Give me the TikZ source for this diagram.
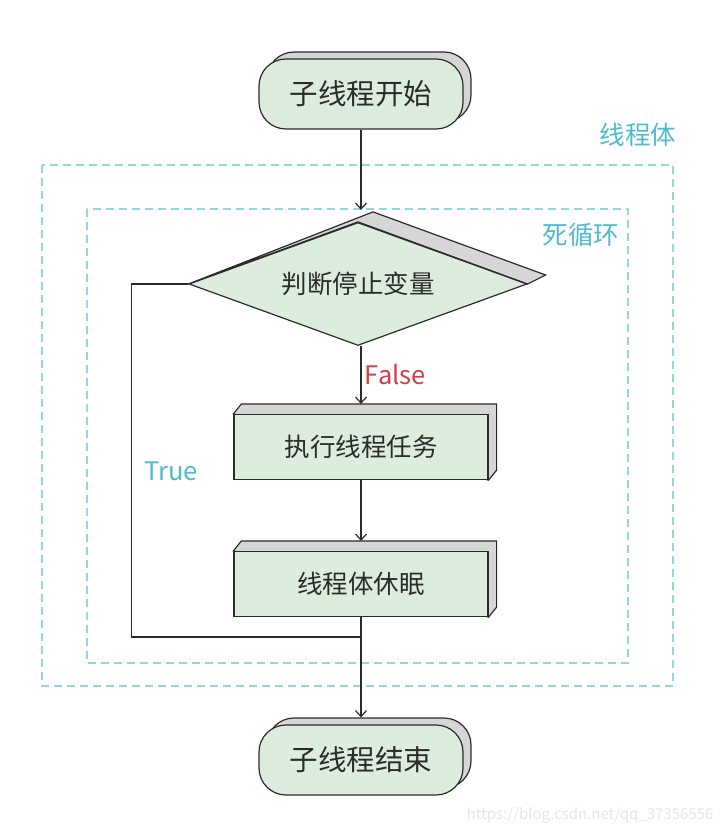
\documentclass[tikz,border=0pt]{standalone}
\usepackage{fontspec}
\setmainfont{Noto Sans CJK SC}
\usepackage{xcolor}
\usetikzlibrary{shapes.geometric,shadows,calc,arrows.meta}

\definecolor{boxgreen}{HTML}{DDEDDD}
\definecolor{boxgray}{HTML}{D6D6D6}
\definecolor{loopcyan}{HTML}{93D5E0}
\definecolor{labcyan}{HTML}{4FBACD}
\definecolor{falsered}{HTML}{CF3F49}
\definecolor{inkgray}{HTML}{2B2B2B}

\pgfdeclarelayer{back}
\pgfsetlayers{back,main}

\begin{document}
\begin{tikzpicture}
  [
    x=1pt, y=-1pt,
    >={Straight Barb[length=6pt,width=11pt]},
    line/.style    = {draw=inkgray, line width=1.2pt},
    term/.style    = {line, rounded corners=27pt, fill=boxgreen, text=inkgray,
                      minimum width=204pt, minimum height=70pt,
                      font=\fontsize{28.5}{32}\selectfont,
                      copy shadow={shadow xshift=8pt, shadow yshift=7pt,
                                   fill=boxgray, draw=inkgray, line width=1.2pt}},
    task/.style    = {line, fill=boxgreen, text=inkgray,
                      minimum width=254pt, minimum height=65pt,
                      font=\fontsize{25.5}{28}\selectfont},
    check/.style   = {line, diamond, aspect=2.75, fill=boxgreen, text=inkgray,
                      inner sep=0pt, minimum width=338pt, minimum height=123pt,
                      font=\fontsize{25.5}{28}\selectfont},
    side/.style    = {line, fill=boxgray},
    loopbox/.style = {draw=loopcyan, line width=1.6pt, dash pattern=on 8pt off 5pt},
    cyanlab/.style = {text=labcyan, font=\fontsize{25.5}{28}\selectfont},
  ]

%Fix the frame of the picture
\useasboundingbox (0,0) rectangle (724,833);

%Depth of the 3D boxes
\def \dx{8}
\def \dy{-10}

%Dashed frames: thread body and endless loop
\draw[loopbox] (42,165) rectangle (673,686);
\node[cyanlab] (bodylab) at (638,135) {线程体};
\draw[loopbox] (87,209) rectangle (628,663);
\node[cyanlab] (looplab) at (581,235) {死循环};

%Start and end
\node[term] (start) at (361,94) {子线程开始};
\node[term] (stop)  at (361,760) {子线程结束};

%Decision
\node[check] (check) at (358,284) {判断停止变量};
\begin{pgfonlayer}{back}
\draw[side] (check.west) -- ($(check.north)+(15,-10)$) -- ($(check.east)+(18,-9)$)
            -- (check.east) -- (check.north) -- cycle;
\end{pgfonlayer}

%Task boxes with their depth
\foreach \name/\y/\txt in {work/447/执行线程任务, nap/584/线程体休眠}
{
\node[task] (\name) at (361,\y) {\txt};
\begin{pgfonlayer}{back}
\draw[side] (\name.north west) -- ++(\dx,\dy) -- ($(\name.north east)+(\dx,\dy)$)
            -- ($(\name.south east)+(\dx,\dy)$) -- (\name.south east) -- cycle;
\end{pgfonlayer}
}

%Connectors
\coordinate (join) at (361,637);
\draw[line,->,shorten >=12pt] (start.south) -- (start.south |- check.north);
\draw[line,->,shorten >=10pt] (work.north |- check.south) -- node[pos=0.42, right,
      text=falsered, font=\fontsize{25.5}{28}\selectfont] (falselab) {False} (work.north);
\draw[line,->,shorten >=10pt] (work.south) -- (nap.north);
\draw[line,->,shorten >=7pt] (nap.south) -- (stop.north);
\draw[line] (check.west) -- ++(-57,0) |- (join);
\node[cyanlab] (truelab) at (171,471) {True};

%Watermark
\node[anchor=east, text=black!10, font=\fontsize{15}{18}\selectfont] (mark)
      at (717,815) {https://blog.csdn.net/qq\_37356556};
\end{tikzpicture}
\end{document}
